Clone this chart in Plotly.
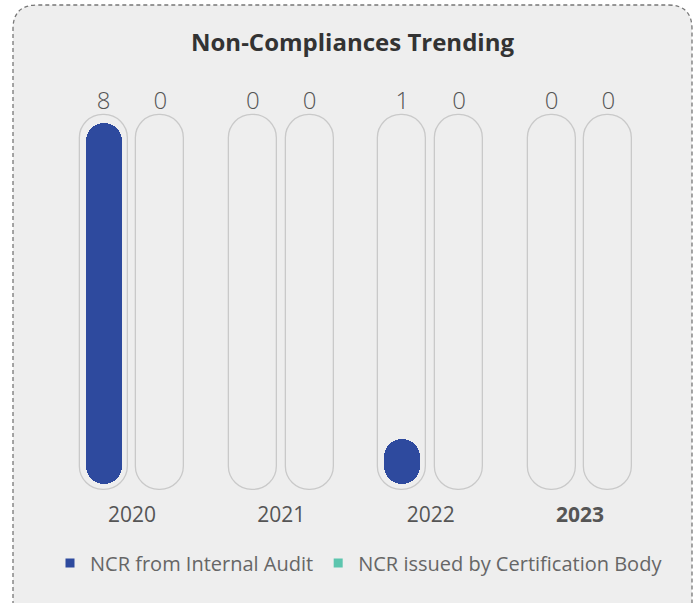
import plotly.graph_objects as go

years = ["2020", "2021", "2022", "2023"]
year_labels = ["2020", "2021", "2022", "<b>2023</b>"]
internal_audit = [8, 0, 1, 0]
certification_body = [0, 0, 0, 0]
series_names = ["NCR from Internal Audit", "NCR issued by Certification Body"]
series_colors = ["#2e4a9e", "#5cc5ae"]

W, H = 695, 603
BG = "#eeeeee"
FONT = "Open Sans, Lato, sans-serif"

ymax = max(max(internal_audit), max(certification_body))
track_lo = -0.133 * ymax / 8
track_hi = ymax + 0.177 * ymax / 8

offset = 0.19
track_w = 0.322
fill_w = 0.242

idx = list(range(len(years)))
series = [internal_audit, certification_body]

fig = go.Figure()

for s, vals in enumerate(series):
    xs = [i + (2 * s - 1) * offset for i in idx]
    fig.add_trace(go.Bar(
        x=xs, y=[track_hi - track_lo] * len(xs), base=[track_lo] * len(xs),
        width=track_w, marker=dict(color=BG, line=dict(color="#c9c9c9", width=1.3),
                                   cornerradius="50%"),
        showlegend=False, hoverinfo="skip"))

for s, vals in enumerate(series):
    xs = [i + (2 * s - 1) * offset for i in idx]
    fig.add_trace(go.Bar(
        x=xs, y=vals, base=[0] * len(vals),
        width=fill_w, marker=dict(color=series_colors[s], line=dict(width=0),
                                  cornerradius="50%"),
        name=series_names[s], legendgroup=series_names[s], showlegend=False,
        hovertemplate="%{y}<extra></extra>"))
    fig.add_trace(go.Scatter(
        x=[None], y=[None], mode="markers",
        marker=dict(symbol="square", size=9, color=series_colors[s]),
        name=series_names[s], legendgroup=series_names[s], showlegend=True))
    fig.add_trace(go.Scatter(
        x=xs, y=[track_hi] * len(xs), mode="text", text=[str(v) for v in vals],
        textposition="top center",
        textfont=dict(family=FONT, size=24, color="#555555", weight=300),
        showlegend=False, hoverinfo="skip"))

px_per_unit = 149.33
x0 = -132 / px_per_unit
x1 = (W - 132) / px_per_unit
plot_h = 500
unit_px = 45.125
y0 = -16 / unit_px
y1 = (plot_h - 16) / unit_px

def px(x):
    return x / W

def py(y):
    return (plot_h - y) / plot_h

r = 24
L, T, R, B = 13, 5, 692, 640
path = (f"M {px(L)},{py(B)} L {px(L)},{py(T + r)} Q {px(L)},{py(T)} {px(L + r)},{py(T)} "
        f"L {px(R - r)},{py(T)} Q {px(R)},{py(T)} {px(R)},{py(T + r)} L {px(R)},{py(B)}")

fig.update_layout(
    width=W, height=H,
    margin=dict(l=0, r=0, t=0, b=H - plot_h),
    paper_bgcolor="white", plot_bgcolor="rgba(0,0,0,0)",
    barmode="overlay", bargap=0,
    font=dict(family=FONT, color="#555555"),
    xaxis=dict(range=[x0, x1], tickmode="array", tickvals=idx, ticktext=year_labels,
               showgrid=False, zeroline=False, showline=False, ticks="",
               tickfont=dict(family=FONT, size=21, color="#555555"), fixedrange=True),
    yaxis=dict(range=[y0, y1], showgrid=False, zeroline=False, showline=False,
               showticklabels=False, ticks="", fixedrange=True),
    shapes=[dict(type="path", path=path, xref="paper", yref="paper",
                 fillcolor=BG, line=dict(color="#777777", width=1.3, dash="4px,3px"),
                 layer="below")],
    annotations=[dict(text="<b>Non-Compliances Trending</b>", x=px(352), y=py(42),
                      xref="paper", yref="paper", xanchor="center", yanchor="middle",
                      showarrow=False,
                      font=dict(family=FONT, size=24, color="#333333"))],
    legend=dict(orientation="h", x=px(359), xanchor="center", y=1 - 563 / H,
                yref="container", yanchor="middle",
                font=dict(family=FONT, size=20, color="#666666"),
                bgcolor="rgba(0,0,0,0)", itemclick=False, itemdoubleclick=False),
)

fig.write_html("out.html", config={"displayModeBar": False},
               post_script="document.body.style.margin='0';")
